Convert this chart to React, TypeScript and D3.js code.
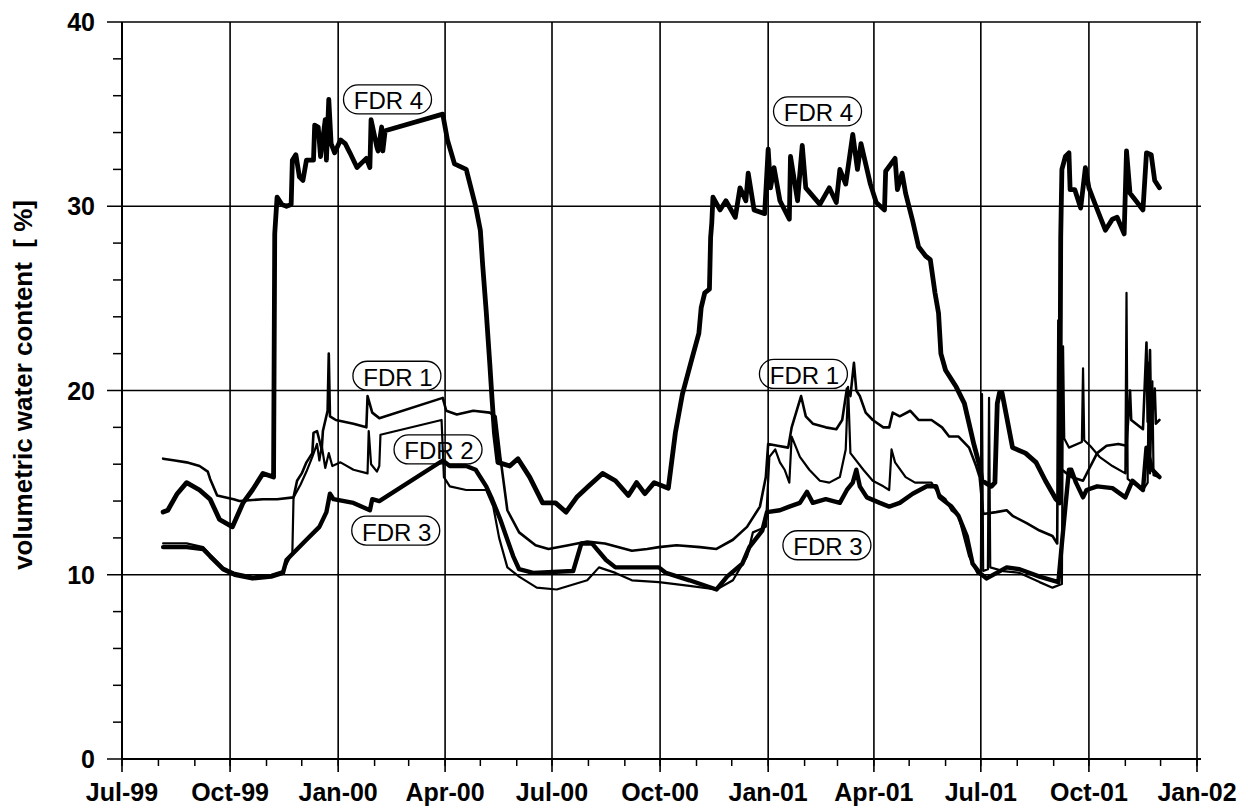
import React from 'react';
import * as d3 from 'd3';

// FDR soil moisture series, [date, volumetric water content %]
const fdr1: [string, number][] = [
  ["1999-08-05",16.3],["1999-08-15",16.2],["1999-08-25",16.1],["1999-09-05",15.9],["1999-09-12",15.6],["1999-09-14",15.2],["1999-09-20",14.3],["1999-10-04",14.1],["1999-10-09",14.0],["1999-10-29",14.1],["1999-11-10",14.1],["1999-11-24",14.2],["1999-11-27",15.1],["1999-12-01",15.5],["1999-12-05",16.1],["1999-12-10",16.6],["1999-12-11",17.7],["1999-12-14",17.8],["1999-12-18",16.8],["1999-12-19",17.8],["1999-12-23",18.9],["1999-12-24",22.0],["1999-12-25",18.6],["1999-12-30",18.4],["2000-01-14",18.2],["2000-01-25",18.0],["2000-01-26",19.7],["2000-01-30",18.8],["2000-02-05",18.5],["2000-03-30",19.6],["2000-04-02",18.9],["2000-04-11",18.7],["2000-04-25",18.9],["2000-05-09",18.8],["2000-05-14",18.6],["2000-05-18",16.4],["2000-05-24",13.5],["2000-06-03",12.3],["2000-06-17",11.6],["2000-06-28",11.4],["2000-07-15",11.6],["2000-07-31",11.8],["2000-08-15",11.7],["2000-09-07",11.3],["2000-09-20",11.4],["2000-09-30",11.5],["2000-10-15",11.6],["2000-11-04",11.5],["2000-11-18",11.4],["2000-12-02",11.9],["2000-12-14",12.6],["2000-12-25",13.7],["2000-12-30",15.3],["2001-01-01",17.1],["2001-01-09",17.0],["2001-01-18",16.9],["2001-01-21",18.0],["2001-01-29",19.7],["2001-02-02",18.6],["2001-02-08",18.2],["2001-02-19",18.0],["2001-02-28",17.9],["2001-03-05",18.4],["2001-03-09",20.1],["2001-03-12",19.7],["2001-03-15",21.5],["2001-03-17",20.0],["2001-03-20",19.7],["2001-03-25",18.8],["2001-03-31",18.4],["2001-04-09",18.0],["2001-04-14",18.0],["2001-04-17",18.8],["2001-04-23",18.6],["2001-05-02",18.9],["2001-05-09",18.4],["2001-05-20",18.4],["2001-05-29",18.0],["2001-06-04",17.5],["2001-06-12",17.5],["2001-06-21",16.9],["2001-06-27",15.9],["2001-06-30",15.3],["2001-07-03",13.3],["2001-07-14",13.4],["2001-07-23",13.5],["2001-07-28",13.2],["2001-08-09",12.8],["2001-08-20",12.4],["2001-08-31",12.1],["2001-09-04",11.7],["2001-09-05",23.8],["2001-09-06",15.8],["2001-09-16",15.3],["2001-09-26",15.1],["2001-10-08",16.6],["2001-10-16",17.0],["2001-10-26",17.1],["2001-11-02",17.0],["2001-11-05",20.0],["2001-11-06",18.4],["2001-11-16",17.9],["2001-11-19",22.6],["2001-11-20",18.3],["2001-11-22",22.2],["2001-11-23",18.0],["2001-11-26",20.1],["2001-11-27",18.2],["2001-11-30",18.4]
];

const fdr2: [string, number][] = [
  ["1999-08-05",11.7],["1999-08-25",11.7],["1999-09-08",11.5],["1999-09-14",11.1],["1999-09-25",10.4],["1999-10-05",10.1],["1999-10-20",9.9],["1999-11-05",10.0],["1999-11-15",10.2],["1999-11-23",11.2],["1999-11-24",14.2],["1999-11-30",14.9],["1999-12-05",15.6],["1999-12-10",16.4],["1999-12-14",17.1],["1999-12-16",16.2],["1999-12-18",17.0],["1999-12-21",15.8],["1999-12-24",16.6],["1999-12-27",15.9],["2000-01-03",16.1],["2000-01-14",15.7],["2000-01-26",15.5],["2000-01-27",17.8],["2000-01-29",16.0],["2000-02-03",15.6],["2000-02-05",15.9],["2000-02-06",17.6],["2000-03-29",18.4],["2000-03-31",15.3],["2000-04-05",14.8],["2000-04-19",14.6],["2000-05-06",14.6],["2000-05-12",13.7],["2000-05-17",12.0],["2000-05-24",10.4],["2000-06-03",9.9],["2000-06-18",9.3],["2000-07-05",9.2],["2000-07-31",9.7],["2000-08-10",10.4],["2000-08-24",10.1],["2000-09-07",9.7],["2000-09-30",9.6],["2000-10-26",9.4],["2000-11-18",9.2],["2000-12-02",9.7],["2000-12-14",11.0],["2000-12-19",12.3],["2000-12-30",12.6],["2001-01-02",16.4],["2001-01-07",16.8],["2001-01-11",16.1],["2001-01-15",15.7],["2001-01-19",15.0],["2001-01-21",17.5],["2001-01-28",16.4],["2001-02-05",15.7],["2001-02-14",15.1],["2001-02-22",15.0],["2001-03-03",15.3],["2001-03-08",16.8],["2001-03-10",20.2],["2001-03-12",16.6],["2001-03-23",15.7],["2001-03-31",15.1],["2001-04-09",14.8],["2001-04-14",14.6],["2001-04-16",16.8],["2001-04-19",16.1],["2001-04-28",15.3],["2001-05-06",15.0],["2001-05-20",15.0],["2001-05-26",14.4],["2001-06-01",14.1],["2001-06-06",13.5],["2001-06-12",13.2],["2001-06-21",11.0],["2001-06-28",10.1],["2001-07-01",10.0],["2001-07-02",19.8],["2001-07-03",10.2],["2001-07-07",10.3],["2001-07-08",19.6],["2001-07-09",10.4],["2001-07-20",10.2],["2001-08-03",10.1],["2001-08-20",9.6],["2001-08-31",9.3],["2001-09-08",9.5],["2001-09-09",22.4],["2001-09-10",17.4],["2001-09-14",16.9],["2001-09-25",17.2],["2001-09-26",21.2],["2001-09-27",17.3],["2001-10-02",17.0],["2001-10-10",16.4],["2001-10-21",15.9],["2001-11-01",15.5],["2001-11-02",25.3],["2001-11-03",15.2],["2001-11-07",15.0],["2001-11-16",14.6],["2001-11-20",15.0],["2001-11-21",21.5],["2001-11-22",15.5],["2001-11-24",20.5],["2001-11-25",15.4],["2001-11-30",15.3]
];

const fdr3: [string, number][] = [
  ["1999-08-05",11.5],["1999-08-25",11.5],["1999-09-08",11.4],["1999-09-14",11.0],["1999-09-25",10.3],["1999-10-05",10.0],["1999-10-20",9.8],["1999-11-05",9.9],["1999-11-15",10.1],["1999-11-18",10.8],["1999-12-05",11.9],["1999-12-16",12.6],["1999-12-22",13.4],["1999-12-25",14.4],["1999-12-28",14.1],["2000-01-14",13.9],["2000-01-28",13.5],["2000-01-30",14.1],["2000-02-05",14.0],["2000-03-30",16.2],["2000-04-05",15.9],["2000-04-19",15.9],["2000-04-27",15.7],["2000-05-06",14.8],["2000-05-11",14.1],["2000-05-18",13.0],["2000-05-24",11.9],["2000-05-29",11.0],["2000-06-03",10.3],["2000-06-15",10.1],["2000-07-19",10.2],["2000-07-26",11.7],["2000-08-04",11.7],["2000-08-16",10.8],["2000-08-24",10.4],["2000-09-30",10.4],["2000-10-06",10.1],["2000-10-26",9.7],["2000-11-18",9.2],["2000-11-27",9.9],["2000-12-10",10.6],["2000-12-16",11.5],["2000-12-27",12.4],["2000-12-31",13.4],["2001-01-11",13.5],["2001-01-19",13.7],["2001-01-28",13.9],["2001-02-03",14.5],["2001-02-08",13.9],["2001-02-19",14.1],["2001-03-03",13.9],["2001-03-09",14.6],["2001-03-14",15.0],["2001-03-17",15.7],["2001-03-20",14.8],["2001-03-26",14.2],["2001-04-06",13.9],["2001-04-14",13.7],["2001-04-23",13.9],["2001-05-04",14.4],["2001-05-16",14.8],["2001-05-24",14.8],["2001-05-27",14.2],["2001-06-06",13.7],["2001-06-12",13.2],["2001-06-19",12.1],["2001-06-24",10.6],["2001-06-30",10.1],["2001-07-06",9.8],["2001-07-23",10.4],["2001-08-03",10.3],["2001-08-20",9.9],["2001-09-05",9.6],["2001-09-08",11.7],["2001-09-14",15.7],["2001-09-16",15.7],["2001-09-20",15.0],["2001-09-26",14.2],["2001-09-29",14.6],["2001-10-08",14.8],["2001-10-21",14.7],["2001-11-01",14.2],["2001-11-07",15.1],["2001-11-16",14.6],["2001-11-19",16.9],["2001-11-24",15.7],["2001-11-30",15.3]
];

const fdr4: [string, number][] = [
  ["1999-08-05",13.4],["1999-08-09",13.5],["1999-08-17",14.4],["1999-08-25",15.0],["1999-09-05",14.6],["1999-09-14",14.1],["1999-09-22",13.0],["1999-10-03",12.6],["1999-10-12",13.9],["1999-10-20",14.6],["1999-10-29",15.5],["1999-11-07",15.3],["1999-11-08",28.5],["1999-11-10",30.5],["1999-11-14",30.1],["1999-11-18",30.0],["1999-11-22",30.1],["1999-11-23",32.5],["1999-11-26",32.8],["1999-11-29",31.6],["1999-12-02",31.4],["1999-12-05",32.5],["1999-12-11",32.5],["1999-12-12",34.4],["1999-12-15",34.3],["1999-12-17",32.7],["1999-12-21",34.7],["1999-12-22",32.5],["1999-12-24",35.8],["1999-12-26",33.4],["1999-12-29",32.9],["2000-01-03",33.6],["2000-01-07",33.4],["2000-01-11",32.9],["2000-01-17",32.1],["2000-01-25",32.6],["2000-01-28",32.1],["2000-01-29",34.7],["2000-02-03",33.2],["2000-02-04",33.0],["2000-02-07",34.3],["2000-02-08",33.0],["2000-02-10",34.1],["2000-03-30",35.0],["2000-04-03",33.6],["2000-04-09",32.3],["2000-04-19",32.0],["2000-04-27",30.0],["2000-05-01",28.7],["2000-05-03",26.8],["2000-05-06",24.3],["2000-05-09",21.5],["2000-05-11",19.5],["2000-05-13",17.7],["2000-05-16",16.1],["2000-05-26",15.9],["2000-06-02",16.3],["2000-06-12",15.3],["2000-06-23",13.9],["2000-07-04",13.9],["2000-07-13",13.4],["2000-07-22",14.2],["2000-08-01",14.8],["2000-08-13",15.5],["2000-08-24",15.1],["2000-09-04",14.3],["2000-09-11",15.0],["2000-09-18",14.4],["2000-09-26",15.0],["2000-10-08",14.7],["2000-10-14",17.7],["2000-10-20",19.8],["2000-10-28",21.7],["2000-11-03",23.1],["2000-11-05",24.5],["2000-11-08",25.3],["2000-11-12",25.5],["2000-11-13",28.3],["2000-11-14",29.1],["2000-11-15",30.5],["2000-11-21",29.8],["2000-11-26",30.3],["2000-12-04",29.4],["2000-12-08",31.0],["2000-12-13",30.3],["2000-12-15",31.8],["2000-12-20",29.8],["2000-12-29",29.6],["2001-01-01",33.1],["2001-01-03",31.0],["2001-01-06",32.1],["2001-01-11",30.3],["2001-01-19",29.3],["2001-01-20",32.7],["2001-01-26",30.3],["2001-01-30",33.3],["2001-02-02",31.0],["2001-02-14",30.1],["2001-02-22",31.0],["2001-02-28",30.2],["2001-03-03",32.0],["2001-03-08",31.2],["2001-03-14",33.9],["2001-03-18",32.0],["2001-03-21",33.4],["2001-03-29",31.2],["2001-04-03",30.2],["2001-04-10",29.8],["2001-04-11",31.9],["2001-04-19",32.6],["2001-04-21",30.9],["2001-04-25",31.8],["2001-04-28",30.7],["2001-05-04",29.2],["2001-05-09",27.8],["2001-05-15",27.3],["2001-05-19",27.1],["2001-05-23",25.3],["2001-05-26",24.2],["2001-05-28",22.0],["2001-06-01",21.1],["2001-06-10",20.2],["2001-06-17",19.3],["2001-06-21",18.2],["2001-06-25",17.1],["2001-06-30",15.9],["2001-07-02",15.1],["2001-07-10",14.8],["2001-07-13",15.0],["2001-07-15",19.3],["2001-07-17",19.9],["2001-07-19",19.9],["2001-07-28",16.9],["2001-08-08",16.6],["2001-08-17",16.1],["2001-08-25",15.1],["2001-09-03",14.1],["2001-09-06",13.9],["2001-09-07",28.3],["2001-09-08",32.0],["2001-09-11",32.7],["2001-09-14",32.9],["2001-09-15",30.9],["2001-09-19",30.9],["2001-09-24",29.9],["2001-09-28",32.1],["2001-10-01",31.0],["2001-10-07",30.0],["2001-10-15",28.7],["2001-10-21",29.3],["2001-10-25",29.4],["2001-10-31",28.5],["2001-11-02",33.0],["2001-11-05",30.7],["2001-11-10",30.3],["2001-11-16",29.8],["2001-11-19",32.9],["2001-11-23",32.8],["2001-11-26",31.4],["2001-11-30",31.0]
];

// label callouts: text, date and value of the box centre
const labelTexts = ["FDR 4", "FDR 4", "FDR 1", "FDR 2", "FDR 3", "FDR 1", "FDR 3"];
const labelDates = ["2000-02-12", "2001-02-12", "2000-02-20", "2000-03-26", "2000-02-19", "2001-01-31", "2001-02-20"];
const labelValues = [35.8, 35.15, 20.8, 16.8, 12.4, 20.9, 11.6];

const yTicks = [0, 10, 20, 30, 40];

const parse = d3.timeParse("%Y-%m-%d");

export default function App() {
  const width = 1248, height = 808;
  const left = 122, right = 1197, top = 22, bottom = 759;

  const x = d3.scaleTime()
    .domain([new Date(1999, 6, 1), new Date(2002, 0, 1)])
    .range([left, right]);
  const y = d3.scaleLinear().domain([0, 40]).range([bottom, top]);

  const line = d3.line<[string, number]>()
    .x(d => x(parse(d[0]) as Date))
    .y(d => y(d[1]));

  const quarters = d3.timeMonth.every(3)!.range(new Date(1999, 6, 1), new Date(2002, 0, 2));
  const months = d3.timeMonth.range(new Date(1999, 6, 1), new Date(2002, 0, 2));
  const minorY = d3.range(0, 41, 2).filter(v => v % 10 !== 0);
  const fmt = d3.timeFormat("%b-%y");

  const series = [
    { data: fdr1, w: 2.6 },
    { data: fdr2, w: 2.2 },
    { data: fdr3, w: 4.4 },
    { data: fdr4, w: 4.8 },
  ];

  const font = "'Liberation Sans', Arial, sans-serif";

  return (
    <svg width={width} height={height} style={{ position: 'absolute', left: 0, top: 0, background: '#fff' }}>
      {/* horizontal grid + major y ticks */}
      {yTicks.map(v => (
        <g key={'gy' + v}>
          <line x1={107} x2={right + 4} y1={y(v)} y2={y(v)} stroke="#000" strokeWidth={1.6} />
          <text x={95} y={y(v) + 9} textAnchor="end" fontFamily={font} fontWeight="bold" fontSize={25}>{v}</text>
        </g>
      ))}
      {minorY.map(v => (
        <line key={'my' + v} x1={113} x2={left} y1={y(v)} y2={y(v)} stroke="#000" strokeWidth={1.5} />
      ))}
      {/* vertical grid at quarters */}
      {quarters.map(d => (
        <g key={'gx' + d.getTime()}>
          <line x1={x(d)} x2={x(d)} y1={top} y2={bottom + 13} stroke="#000" strokeWidth={1.6} />
          <text x={x(d)} y={801} textAnchor="middle" fontFamily={font} fontWeight="bold" fontSize={25}>{fmt(d)}</text>
        </g>
      ))}
      {months.map(d => (
        <line key={'mx' + d.getTime()} x1={x(d)} x2={x(d)} y1={bottom} y2={bottom + 7} stroke="#000" strokeWidth={1.5} />
      ))}
      <line x1={left} x2={left} y1={top} y2={bottom} stroke="#000" strokeWidth={2} />
      <line x1={left} x2={right + 4} y1={bottom} y2={bottom} stroke="#000" strokeWidth={2} />

      <text transform="translate(32,200) rotate(-90)" textAnchor="end"
        fontFamily={font} fontWeight="bold" fontSize={26} style={{ whiteSpace: 'pre' }}>{'volumetric water content  [ %]'}</text>

      {series.map((s, i) => (
        <path key={'s' + i} d={line(s.data) || ''} fill="none" stroke="#000" strokeWidth={s.w}
          strokeLinejoin="round" strokeLinecap="round" />
      ))}

      {labelTexts.map((t, i) => {
        const cx = x(parse(labelDates[i]) as Date);
        const cy = y(labelValues[i]);
        const w = 88, h = 29;
        return (
          <g key={'lb' + i}>
            <rect x={cx - w / 2} y={cy - h / 2} width={w} height={h} rx={h / 2} ry={h / 2}
              fill="none" stroke="#000" strokeWidth={1.3} />
            <text x={cx + 1} y={cy + 10} textAnchor="middle" fontFamily={font} fontSize={24}>{t}</text>
          </g>
        );
      })}
    </svg>
  );
}
